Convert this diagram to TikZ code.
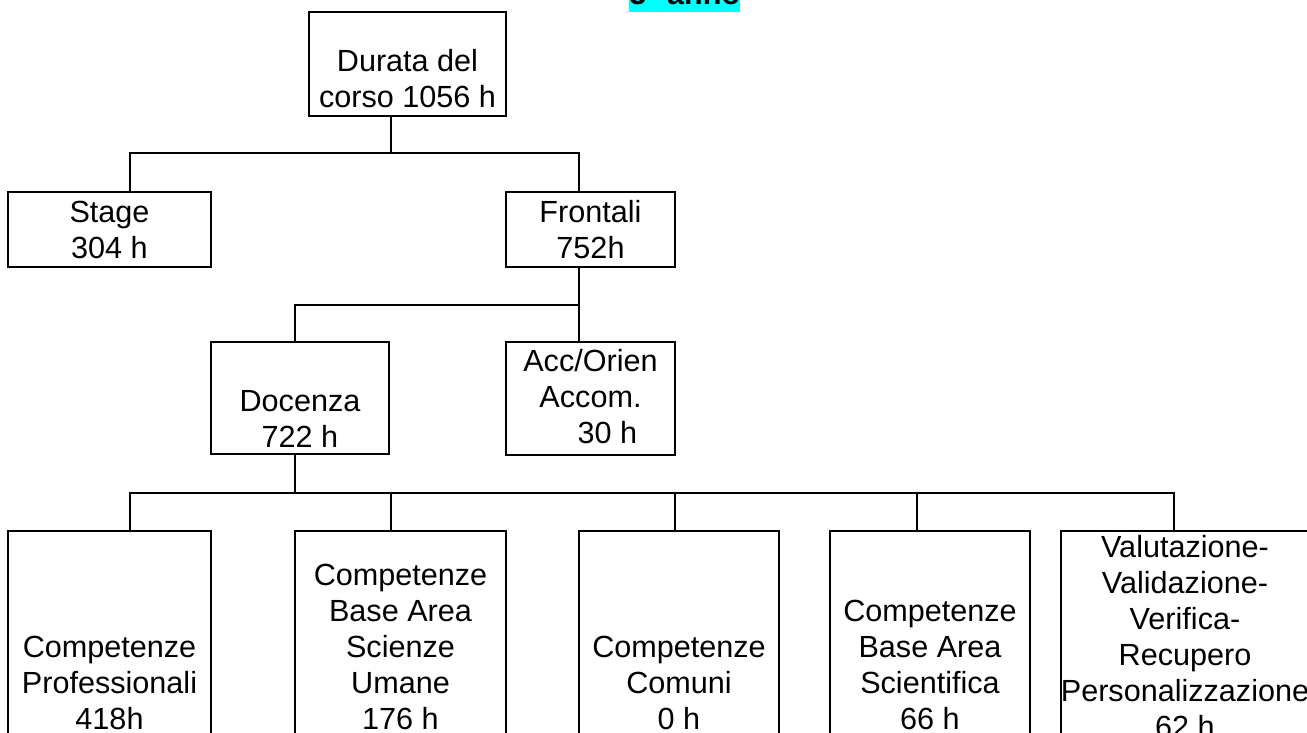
\documentclass[tikz,border=0pt]{standalone}
\usepackage{fontspec}
\setmainfont{Liberation Sans}
\usetikzlibrary{positioning,fit}
\definecolor{hilite}{RGB}{0,255,255}

\begin{document}
\begin{tikzpicture}[x=0.5pt, y=-0.5pt,
    unit/.style = {draw, line width=1pt, inner sep=0pt},
    txt/.style = {align=center, inner sep=0pt, font=\fontsize{15.3pt}{18pt}\selectfont},
    link/.style = {line width=1pt}]
    \useasboundingbox (0,0) rectangle (1307,733);

    % title, cut by the top edge
    \node[txt, font=\fontsize{15.3pt}{18pt}\selectfont\bfseries, fill=hilite, text height=14.5pt, text depth=3.3pt, anchor=base west] (title) at (629,5) {3° anno};

    % boxes
    \node[unit, fit={(309,12) (506,116)}] (durata) {};
    \node[unit, fit={(8,192) (211,267)}] (stage) {};
    \node[unit, fit={(506,192) (675,267)}] (frontali) {};
    \node[unit, fit={(211,342) (389,454)}] (docenza) {};
    \node[unit, fit={(506,342) (675,455)}] (acc) {};
    \node[unit, fit={(8,531) (211,745)}] (prof) {};
    \node[unit, fit={(295,531) (506,745)}] (umane) {};
    \node[unit, fit={(579,531) (779,745)}] (comuni) {};
    \node[unit, fit={(830,531) (1030,745)}] (scient) {};
    \node[unit, fit={(1061,531) (1309,745)}] (valut) {};

    % texts
    \node[txt, above=4.5pt of durata.south] (durataT) {Durata del\\corso 1056 h};
    \node[txt, above=4.5pt of stage.south] (stageT) {Stage\\304 h};
    \node[txt, above=4.5pt of frontali.south] (frontaliT) {Frontali\\752h};
    \node[txt, above=3.5pt of docenza.south] (docenzaT) {Docenza\\722 h};
    \node[txt, above=6pt of acc.south] (accT) {Acc/Orien\\Accom.\\\hspace*{17pt}30 h};
    \node[txt, above=8pt of prof.south] (profT) {Competenze\\Professionali\\418h};
    \node[txt, above=8pt of umane.south] (umaneT) {Competenze\\Base Area\\Scienze\\Umane\\176 h};
    \node[txt, above=8pt of comuni.south] (comuniT) {Competenze\\Comuni\\0 h};
    \node[txt, above=8pt of scient.south] (scientT) {Competenze\\Base Area\\Scientifica\\66 h};
    \node[txt, above=4pt of valut.south] (valutT) {Valutazione-\\Validazione-\\Verifica-\\Recupero\\Personalizzazione\\62 h};

    % connectors
    \coordinate (k1) at (391,153);
    \coordinate (k2) at (579,305);
    \coordinate (k3) at (295,493);
    \draw[link] (durata.south -| k1) -- (k1);
    \draw[link] (stage.north -| 130,0) |- (k1) -| (frontali.north -| k2);
    \draw[link] (frontali.south -| k2) -- (k2);
    \draw[link] (docenza.north -| k3) |- (k2) -- (acc.north -| k2);
    \draw[link] (docenza.south -| k3) -- (k3);
    \draw[link] (prof.north -| 130,0) |- (k3) -| (valut.north -| 1174,0);
    \foreach \n/\x in {umane/391, comuni/675, scient/917}
        \draw[link] (\n.north -| \x,0) -- (k3 -| \x,0);
\end{tikzpicture}
\end{document}
